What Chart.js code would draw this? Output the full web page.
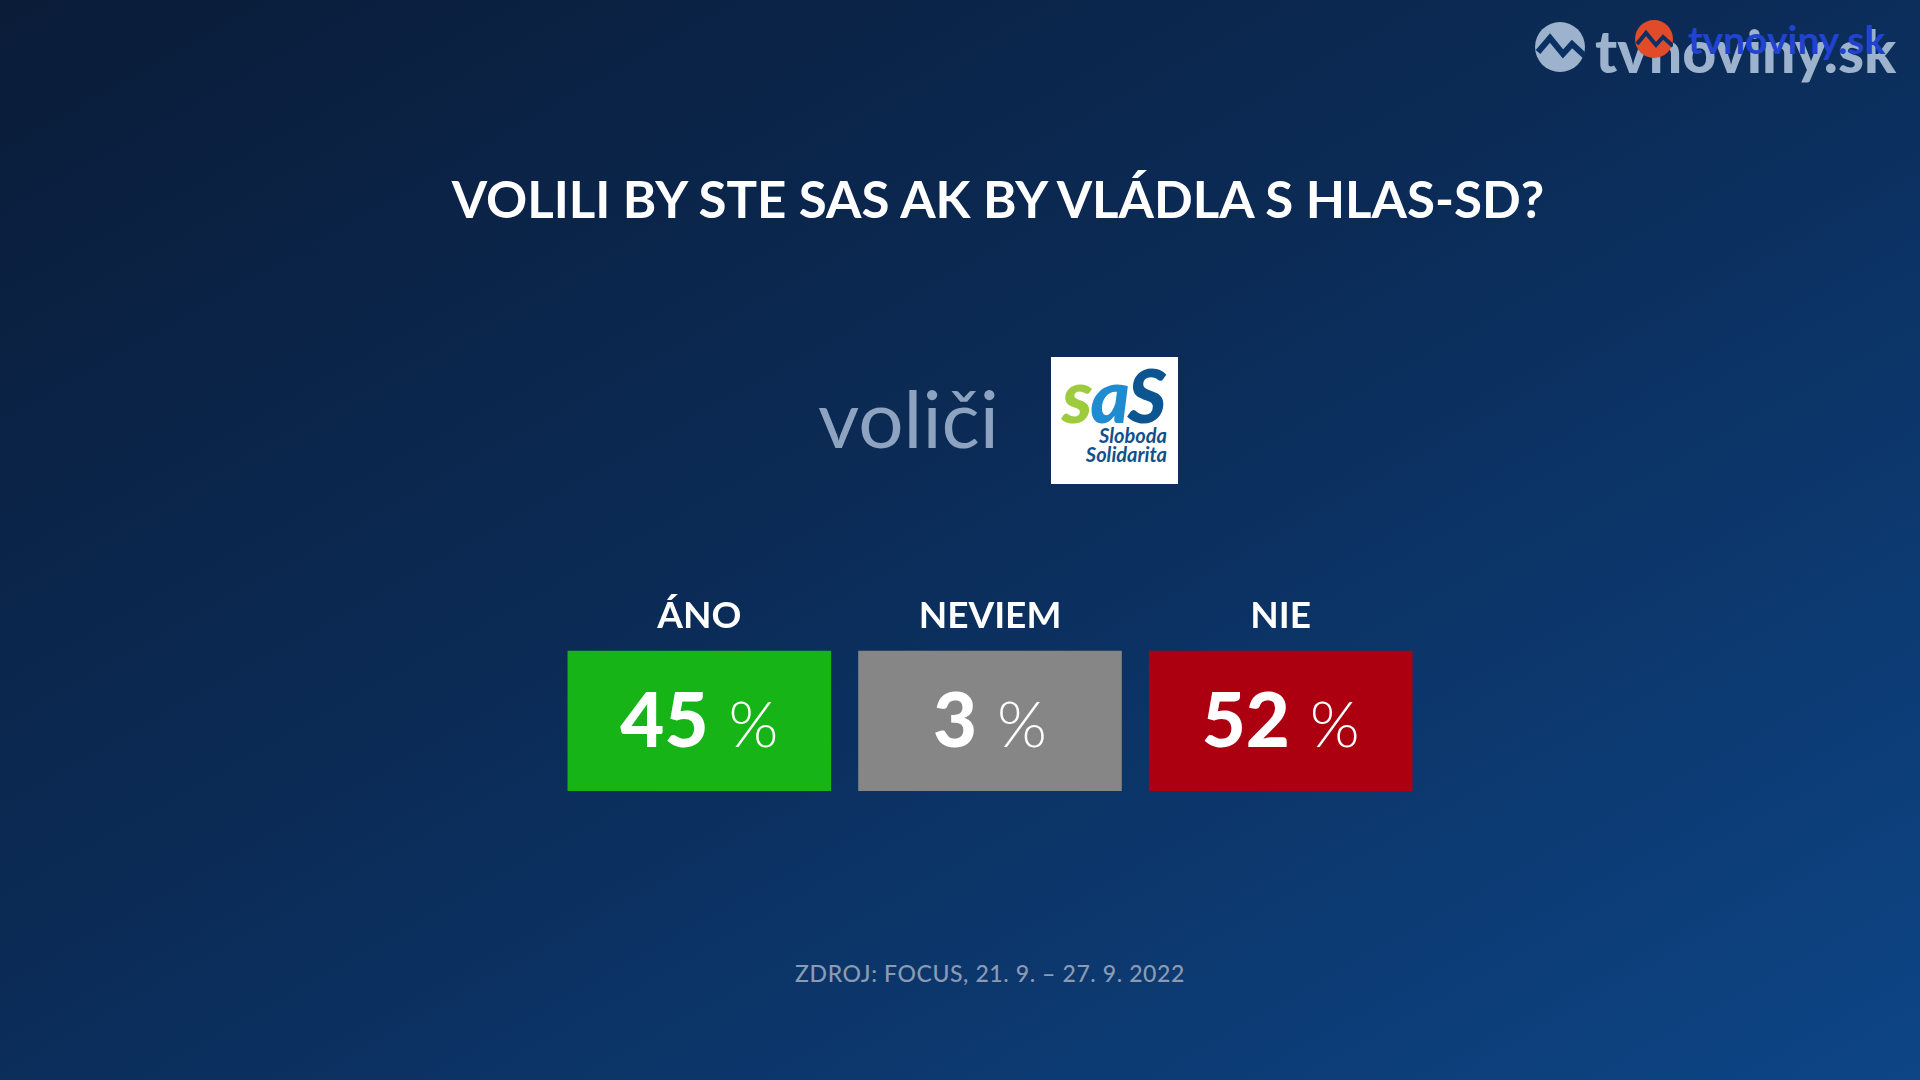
<!DOCTYPE html>
<html lang="sk">
<head>
<meta charset="utf-8">
<title>Volili by ste SaS ak by vládla s Hlas-SD?</title>
<script src="https://cdn.jsdelivr.net/npm/chart.js"></script>
<style>
  html, body { margin: 0; padding: 0; }
  body {
    width: 1920px; height: 1080px; overflow: hidden; position: relative;
    font-family: Lato, "Open Sans", sans-serif;
    background: linear-gradient(to bottom right, #0a1c38 0%, #0b2b56 45%, #0d4586 100%);
  }
  .abs { position: absolute; white-space: nowrap; }
  #title {
    left: 0; width: 1996px; top: 169px; height: 60px; line-height: 60px;
    text-align: center; color: #fff; font-size: 51px; font-weight: 700;
  }
  #voters {
    left: 700px; width: 299px; top: 367px; line-height: 100px; text-align: right;
    font-size: 80px; color: #8ea3c0; font-weight: 400;
  }
  #sas {
    left: 1051px; top: 357px; width: 127px; height: 127px; background: #fff;
  }
  #sas .mark {
    position: absolute; left: 11px; top: 9px; font-size: 75px; line-height: 56px;
    font-weight: 900; font-style: italic; letter-spacing: -2px;
  }
  #sas .sub {
    position: absolute; right: 11px; top: 69px; text-align: right; font-size: 20px;
    line-height: 19px; font-weight: 700; font-style: italic; color: #12508c;
  }
  #source {
    left: 0; width: 1980px; top: 958px; line-height: 30px; text-align: center;
    font-size: 23px; color: #8b9bb4; font-weight: 500; letter-spacing: 0.6px;
  }
  #brand { left: 1535px; top: 18px; height: 56px; }
  #brand .ring {
    position: absolute; left: 0; top: 4px; width: 50px; height: 50px; border-radius: 50%;
    background: #9cb2cd;
  }
  #brand .name {
    position: absolute; left: 60px; top: -1px; font-size: 59px; line-height: 68px;
    font-weight: 900; color: #9cb2cd;
  }
  #brand .dot {
    position: absolute; left: 100px; top: 2px; width: 38px; height: 38px; border-radius: 50%;
    background: #e04b2a;
  }
  #brand .name2 {
    position: absolute; left: 153px; top: -4px; font-size: 39px; line-height: 50px;
    font-weight: 700; color: #2143d0;
  }
  #box { position: absolute; left: 554px; top: 582px; width: 872px; height: 209px; }
</style>
</head>
<body>
<div id="brand" class="abs">
  <div class="ring"><svg width="50" height="50" viewBox="0 0 50 50"><polyline points="3,30 15,16 28,32 37,22 50,34" fill="none" stroke="#0b3164" stroke-width="6"/></svg></div>
  <div class="name">tvnoviny.sk</div>
  <div class="dot"><svg width="38" height="38" viewBox="0 0 38 38"><polyline points="2,24 11,13 21,25 28,17 38,26" fill="none" stroke="#0b3164" stroke-width="4"/></svg></div>
  <div class="name2">tvnoviny.sk</div>
</div>

<div id="title" class="abs">VOLILI BY STE SAS AK BY VLÁDLA S HLAS-SD?</div>
<div id="voters" class="abs">voliči</div>
<div id="sas" class="abs">
  <div class="mark"><span style="color:#9ccb3b">s</span><span style="color:#1f8bd0">a</span><span style="color:#0d5590">S</span></div>
  <div class="sub">Sloboda<br>Solidarita</div>
</div>

<div id="box"><canvas id="tiles"></canvas></div>

<div id="source" class="abs">ZDROJ: FOCUS, 21. 9. – 27. 9. 2022</div>

<script>
const categories = ["ÁNO", "NEVIEM", "NIE"];
const shares = [45, 3, 52];
const tileColors = ["#17b418", "#868686", "#ac0011"];

// each answer is a same-sized tile, the share is printed inside it
const tileRows = categories.map((c, i) => ({ x: c, y: [0, 1], share: shares[i] }));

const shareLabels = {
    id: "shareLabels",
    afterDatasetsDraw(chart) {
        const ctx = chart.ctx;
        const meta = chart.getDatasetMeta(0);
        meta.data.forEach((bar, i) => {
            const num = String(chart.data.datasets[0].data[i].share);
            const cy = (bar.y + bar.base) / 2;
            ctx.save();
            ctx.fillStyle = "#fff";
            ctx.textBaseline = "alphabetic";
            ctx.font = "900 76px Lato";
            const wNum = ctx.measureText(num).width;
            ctx.font = "300 64px Lato";
            const wPct = ctx.measureText("%").width;
            const gap = 20;
            let x = bar.x - (wNum + gap + wPct) / 2;
            const baseY = cy + 26;
            ctx.font = "900 76px Lato";
            ctx.fillText(num, x, baseY);
            ctx.font = "300 64px Lato";
            ctx.fillText("%", x + wNum + gap, baseY);
            ctx.restore();
        });
    },
};

new Chart(document.getElementById("tiles").getContext("2d"), {
    type: "bar",
    data: {
        labels: categories,
        datasets: [
            {
                data: tileRows,
                backgroundColor: tileColors,
                barPercentage: 263 / 290,
                categoryPercentage: 1,
            },
        ],
    },
    options: {
        responsive: true,
        maintainAspectRatio: false,
        animation: false,
        layout: { padding: 0 },
        plugins: { legend: { display: false }, tooltip: { enabled: false } },
        scales: {
            x: {
                position: "top",
                grid: { display: false, drawTicks: false },
                border: { display: false },
                ticks: { color: "#fff", font: { family: "Lato", size: 37, weight: "700" }, padding: 12 },
            },
            y: { display: false, min: 0, max: 1 },
        },
    },
    plugins: [shareLabels],
});
</script>
</body>
</html>
